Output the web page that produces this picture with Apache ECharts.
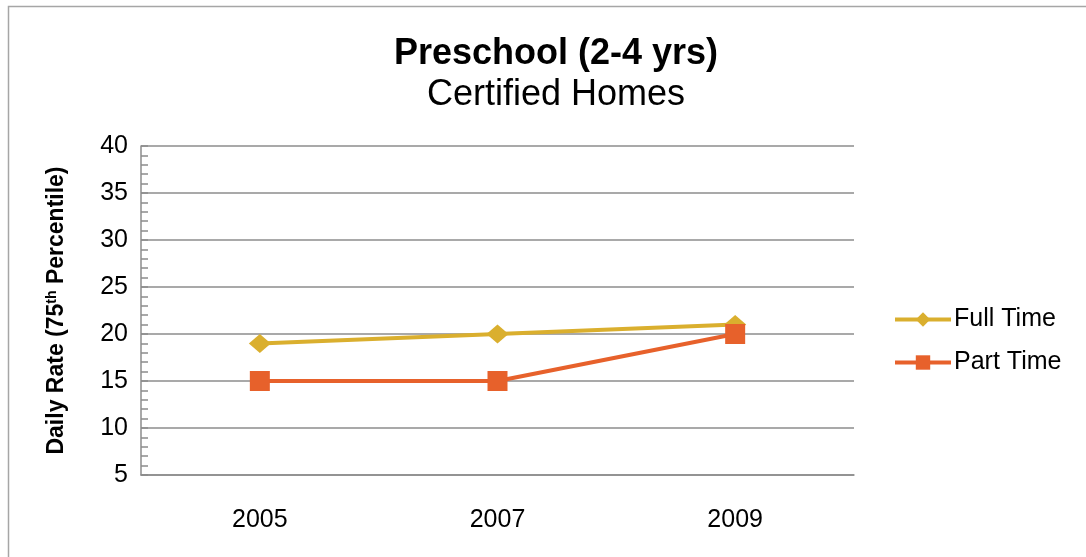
<!DOCTYPE html>
<html><head><meta charset="utf-8">
<script src="https://cdn.jsdelivr.net/npm/echarts@6/dist/echarts.min.js"></script>
<style>html,body{margin:0;padding:0;background:#fff}#c{width:1086px;height:557px}</style>
</head><body><div id="c"></div>
<script>
const categories = ['2005', '2007', '2009'];
const fullTime = [19, 20, 21];
const partTime = [15, 15, 20];
const seriesNames = ['Full Time', 'Part Time'];
const titleText = 'Preschool (2-4 yrs)';
const subtitleText = 'Certified Homes';

const chart = echarts.init(document.getElementById('c'), null, {renderer: 'canvas'});
const font = '"Liberation Sans", Arial, sans-serif';
chart.setOption({
  animation: false,
  backgroundColor: '#fff',
  graphic: [{
    type: 'rect', silent: true,
    shape: {x: 8.5, y: 6.5, width: 1200, height: 700},
    style: {fill: 'none', stroke: '#a6a6a6', lineWidth: 1.5}
  }],
  title: {
    text: titleText, subtext: subtitleText, left: 551, textAlign: 'center', top: 31,
    itemGap: 5,
    textStyle: {fontFamily: font, fontSize: 36, fontWeight: 'bold', color: '#000'},
    subtextStyle: {fontFamily: font, fontSize: 36, color: '#000'}
  },
  legend: {
    orient: 'vertical', left: 888, top: 302, itemGap: 18,
    itemWidth: 56, itemHeight: 18,
    lineStyle: {width: 4},
    textStyle: {fontFamily: font, fontSize: 25, color: '#000', padding: [0, 0, 0, -2]},
    data: seriesNames
  },
  grid: {left: 141, right: 232, top: 146, bottom: 82, containLabel: false},
  xAxis: {
    type: 'category', data: categories, boundaryGap: true,
    axisLine: {lineStyle: {color: '#8c8c8c', width: 1.5}},
    axisTick: {show: false},
    axisLabel: {margin: 33, fontFamily: font, fontSize: 25, color: '#000'}
  },
  yAxis: {
    type: 'value', min: 5, max: 40, interval: 5,
    name: '{a|Daily Rate (75}{b|th}{a| Percentile)}',
    nameLocation: 'middle', nameGap: 72, nameRotate: 90,
    nameTextStyle: {
      rich: {
        a: {fontFamily: font, fontSize: 23, fontWeight: 'bold', color: '#000'},
        b: {fontFamily: font, fontSize: 14, fontWeight: 'bold', color: '#000', padding: [0, 0, 10, 0]}
      }
    },
    axisLine: {show: true, lineStyle: {color: '#8c8c8c', width: 1.5}},
    axisTick: {show: true, inside: true, length: 7, lineStyle: {color: '#8c8c8c', width: 1.5}},
    minorTick: {show: true, splitNumber: 5, length: 7, lineStyle: {color: '#8c8c8c', width: 1.5}},
    axisLabel: {margin: 13, fontFamily: font, fontSize: 25, color: '#000'},
    splitLine: {lineStyle: {color: '#8c8c8c', width: 1.5}}
  },
  series: [
    {
      name: seriesNames[0], type: 'line', data: fullTime,
      symbol: 'diamond', symbolSize: [22, 19],
      lineStyle: {color: '#DAAF2E', width: 4},
      itemStyle: {color: '#DAAF2E'}
    },
    {
      name: seriesNames[1], type: 'line', data: partTime,
      symbol: 'rect', symbolSize: 20,
      lineStyle: {color: '#E7612B', width: 4},
      itemStyle: {color: '#E7612B'}
    }
  ]
});
</script></body></html>
